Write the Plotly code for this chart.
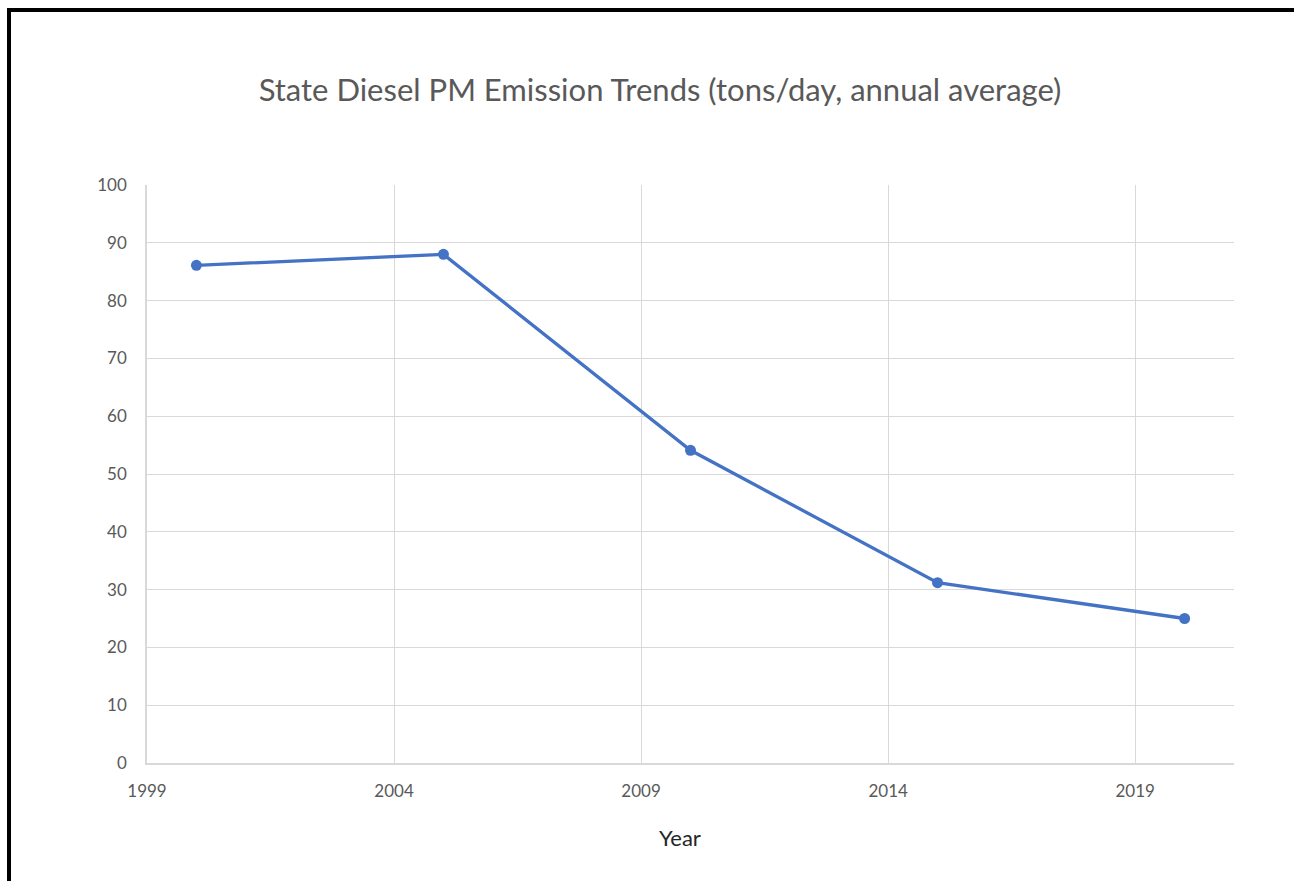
import plotly.graph_objects as go

years = [2000, 2005, 2010, 2015, 2020]
emissions = [86.1, 88.0, 54.1, 31.2, 25.0]
x_ticks = [1999, 2004, 2009, 2014, 2019]
y_ticks = [0, 10, 20, 30, 40, 50, 60, 70, 80, 90, 100]

W, H = 1294, 881
ML, MR, MT, MB = 147, 60, 185, 118
pw = W - ML - MR
ph = H - MT - MB

fig = go.Figure()
fig.add_trace(go.Scatter(
    x=years, y=emissions, mode="lines+markers",
    line=dict(color="#4472C4", width=3.3),
    marker=dict(color="#4472C4", size=11),
    showlegend=False, hoverinfo="x+y",
))

font_family = "Lato, 'Open Sans', sans-serif"
fig.update_layout(
    width=W, height=H,
    margin=dict(l=ML, r=MR, t=MT, b=MB),
    paper_bgcolor="white", plot_bgcolor="white",
    font=dict(family=font_family, color="#595959"),
    title=dict(text="State Diesel PM Emission Trends (tons/day, annual average)",
               x=660 / W, xanchor="center", y=1 - 90 / H, yanchor="middle",
               font=dict(size=31, color="#595959", family=font_family)),
    xaxis=dict(range=[1999, 2021], tickvals=x_ticks, ticktext=[str(v) for v in x_ticks],
               showgrid=True, gridcolor="#d9d9d9", gridwidth=1.3,
               showline=True, linecolor="#d9d9d9", linewidth=1.5,
               zeroline=False, ticks="", ticklabelstandoff=12,
               tickfont=dict(size=17, color="#595959")),
    yaxis=dict(range=[0, 100], tickvals=y_ticks,
               showgrid=True, gridcolor="#d9d9d9", gridwidth=1.3,
               showline=True, linecolor="#d9d9d9", linewidth=1.5, mirror=False,
               zeroline=False, ticks="", ticklabelstandoff=15,
               tickfont=dict(size=17, color="#595959")),
    annotations=[dict(text="Year", xref="paper", yref="paper",
                      x=(680 - ML) / pw, y=(H - MB - 838) / ph,
                      xanchor="center", yanchor="middle", showarrow=False,
                      font=dict(size=22, color="#262626", family=font_family))],
    shapes=[dict(type="rect", xref="paper", yref="paper",
                 x0=(9 - ML) / pw, x1=1.3, y0=-0.5, y1=(H - MB - 10) / ph,
                 line=dict(color="black", width=4), fillcolor="rgba(0,0,0,0)", layer="above")],
)

fig.write_html("out.html")
